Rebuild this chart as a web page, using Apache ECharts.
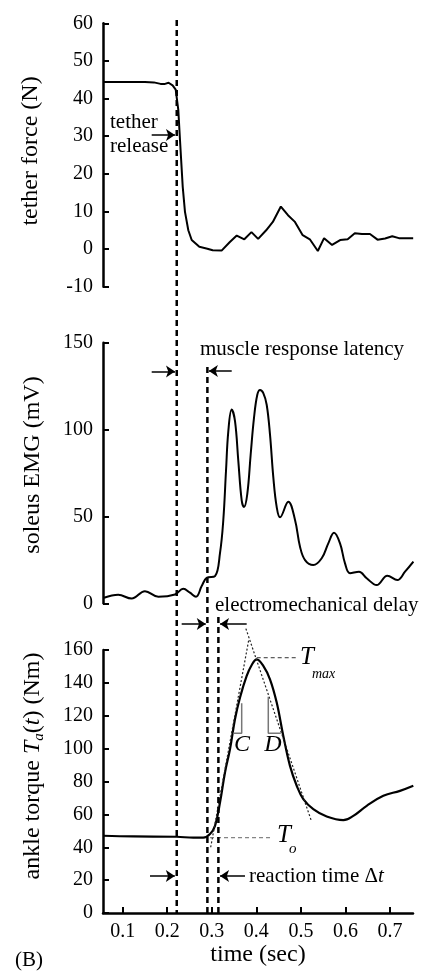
<!DOCTYPE html>
<html>
<head>
<meta charset="utf-8">
<script src="https://cdn.jsdelivr.net/npm/echarts@6/dist/echarts.min.js"></script>
<style>
  html, body { margin: 0; padding: 0; background: #fff; }
  #chart { width: 423px; height: 972px; }
</style>
</head>
<body>
<div id="chart"></div>
<script>
// time axis (sec)
var timeMin = 0.0558, timeMax = 0.7516;
var timeTicks = [0.1, 0.2, 0.3, 0.4, 0.5, 0.6, 0.7];
// tether release, EMG onset, torque onset
var markerTimes = [0.2213, 0.2901, 0.3148];

// tether force (N)
var tetherTime = [0.056, 0.10, 0.15, 0.17, 0.185, 0.195, 0.203, 0.212, 0.219, 0.2248, 0.2286, 0.2347, 0.2398, 0.2473, 0.2549,
  0.272, 0.29, 0.302, 0.322, 0.34, 0.356, 0.373, 0.389, 0.404, 0.422, 0.437, 0.455, 0.471, 0.486, 0.504, 0.52,
  0.538, 0.552, 0.57, 0.588, 0.605, 0.621, 0.637, 0.655, 0.672, 0.689, 0.705, 0.72, 0.752];
var tetherForce = [44.4, 44.4, 44.4, 44.3, 43.9, 43.9, 44.2, 43.5, 42.4, 37, 29, 16.6, 9.9, 5, 2.4,
  0.6, 0.1, -0.3, -0.4, 1.8, 3.6, 2.6, 4.5, 2.7, 5, 7.2, 11.3, 9, 7.3, 3.7, 2.6,
  -0.5, 2.9, 1.1, 2.4, 2.6, 4.2, 4, 4, 2.5, 2.8, 3.4, 2.9, 2.9];

// soleus EMG (mV)
var emgTime = [0.058, 0.090, 0.120, 0.150, 0.180, 0.2174, 0.236, 0.251, 0.2645, 0.2773, 0.2885, 0.3072, 0.3184, 0.3258,
  0.3319, 0.3371, 0.3446, 0.3521, 0.3595, 0.3671, 0.3723, 0.3797, 0.3873, 0.3947, 0.4021, 0.4082, 0.4156, 0.4232,
  0.4306, 0.4381, 0.4457, 0.4531, 0.4717, 0.4868, 0.498, 0.5093, 0.5278, 0.5467, 0.5615, 0.5743, 0.5878,
  0.599, 0.6102, 0.6304, 0.6477, 0.6701, 0.694, 0.7164, 0.7337, 0.7524];
var emgValue = [3.2, 4.9, 2.7, 7.0, 3.8, 5.1, 8.4, 6.1, 3.8, 9.9, 14.6, 15.6, 28.9, 47.8,
  76.3, 99.1, 111.5, 104.8, 82, 59.2, 55.4, 63, 85.8, 106.7, 120, 122.8, 121, 114.3,
  97.2, 72.5, 55.4, 49.5, 58.5, 48, 32.6, 24.9, 22, 25.9, 34.5, 40.6, 34.5,
  23, 17.3, 18.2, 14.4, 10.5, 15.9, 13.4, 18.2, 24];

// ankle torque (Nm)
var torqueTime = [0.056, 0.1238, 0.2212, 0.2585, 0.2809, 0.296, 0.3072, 0.3184, 0.3296, 0.3408, 0.352, 0.3632, 0.3783,
  0.3896, 0.4008, 0.4156, 0.4306, 0.4457, 0.4605, 0.4755, 0.4906, 0.5054, 0.5278, 0.5579, 0.5952, 0.6176, 0.6477,
  0.6850, 0.7224, 0.7523];
var torqueValue = [47.0, 46.6, 46.4, 45.8, 45.8, 48, 53, 67.2, 85.5, 99.6, 117.9, 131, 144.2,
  150.9, 154.3, 150.3, 142.2, 128, 107.7, 89.5, 77.4, 69.3, 63.2, 58.7, 56.5, 59.1, 65.2,
  71.3, 74.3, 77.4];

// torque fit annotations [time, torque]
var riseTangent = [[0.2975, 40], [0.3835, 167]];
var fallTangent = [[0.3765, 173], [0.5235, 56]];
var tMaxLevel = [[0.4008, 155.3], [0.4906, 155.3]];
var tOLevel = [[0.296, 45.8], [0.4345, 45.8]];
var bracketC = [[0.3483, 109.3], [0.3671, 109.3], [0.3671, 127.6]];
var bracketD = [[0.4268, 131.6], [0.4268, 109.3], [0.4547, 109.3]];

function zip(xs, ys) {
  return xs.map(function (x, i) { return [x, ys[i]]; });
}

var serif = 'Liberation Serif';
var myChart = echarts.init(document.getElementById('chart'));

function xAxisOf(idx, visible) {
  return {
    gridIndex: idx, type: 'value', min: timeMin, max: timeMax, show: visible,
    axisLine: { show: true, onZero: false, lineStyle: { color: '#000', width: 2.5 } },
    axisTick: { show: true, inside: true, length: 6, customValues: timeTicks, lineStyle: { color: '#000', width: 2 } },
    axisLabel: { color: '#000', fontFamily: serif, fontSize: 20, margin: 9, customValues: timeTicks,
      formatter: function (v) { return v.toFixed(1); } },
    splitLine: { show: false },
    name: visible ? 'time (sec)' : '', nameLocation: 'middle', nameGap: 28,
    nameTextStyle: { color: '#000', fontFamily: serif, fontSize: 24 }
  };
}
function yAxisOf(idx, min, max, interval) {
  return {
    gridIndex: idx, type: 'value', min: min, max: max, interval: interval,
    axisLine: { show: true, lineStyle: { color: '#000', width: 2.5 } },
    axisTick: { show: true, inside: true, length: 6, lineStyle: { color: '#000', width: 2 } },
    axisLabel: { color: '#000', fontFamily: serif, fontSize: 20, margin: 10 },
    splitLine: { show: false }
  };
}

function dashedMarker(t, top) {
  return {
    type: 'line', xAxisIndex: 3, yAxisIndex: 3, symbol: 'none',
    data: [[t, top], [t, 913]],
    lineStyle: { color: '#000', width: 2.5, type: [6, 4] }
  };
}
function fitLine(data, color, dash, width) {
  return {
    type: 'line', xAxisIndex: 2, yAxisIndex: 2, symbol: 'none', clip: false, data: data,
    lineStyle: { color: color, width: width, type: dash }
  };
}
function arrow(t1, t2, row) {
  return [{ coord: [t1, row] }, { coord: [t2, row] }];
}
function text(x, y, str, size, extra, rotation) {
  var s = { text: str, fill: '#000', fontFamily: serif, fontSize: size,
    textAlign: 'left', textVerticalAlign: 'middle' };
  for (var k in extra) s[k] = extra[k];
  return { type: 'text', silent: true, x: x, y: y, rotation: rotation || 0, style: s };
}

var option = {
  animation: false,
  backgroundColor: '#fff',
  grid: [
    { left: 103, right: 10, top: 23.3, height: 263.4 },
    { left: 103, right: 10, top: 342.7, height: 260.6 },
    { left: 103, right: 10, top: 650, height: 263 },
    { left: 103, right: 10, top: 0, height: 972 }
  ],
  xAxis: [xAxisOf(0, false), xAxisOf(1, false), xAxisOf(2, true), xAxisOf(3, false)],
  yAxis: [
    yAxisOf(0, -10, 60, 10),
    yAxisOf(1, 0, 150, 50),
    yAxisOf(2, 0, 160, 20),
    { gridIndex: 3, type: 'value', min: 0, max: 972, inverse: true, show: false }
  ],
  series: [
    { type: 'line', xAxisIndex: 0, yAxisIndex: 0, symbol: 'none', data: zip(tetherTime, tetherForce),
      lineStyle: { color: '#000', width: 2 } },
    { type: 'line', xAxisIndex: 1, yAxisIndex: 1, symbol: 'none', smooth: 0.4, data: zip(emgTime, emgValue),
      lineStyle: { color: '#000', width: 2 } },
    { type: 'line', xAxisIndex: 2, yAxisIndex: 2, symbol: 'none', smooth: 0.4, data: zip(torqueTime, torqueValue),
      lineStyle: { color: '#000', width: 2.2 } },
    fitLine(riseTangent, '#222', [2, 2], 1.2),
    fitLine(fallTangent, '#222', [2, 2], 1.2),
    fitLine(tMaxLevel, '#333', [4, 3], 1),
    fitLine(tOLevel, '#666', [4, 3], 1),
    fitLine(bracketC, '#777', 'solid', 1.5),
    fitLine(bracketD, '#777', 'solid', 1.5),
    dashedMarker(markerTimes[0], 20),
    dashedMarker(markerTimes[1], 367),
    dashedMarker(markerTimes[2], 617),
    { type: 'line', xAxisIndex: 3, yAxisIndex: 3, symbol: 'none', data: [],
      markLine: {
        silent: true, animation: false, symbol: ['none', 'arrow'], symbolSize: 9,
        label: { show: false },
        lineStyle: { color: '#000', width: 1.5, type: 'solid' },
        data: [
          arrow(0.1651, 0.2174, 135),
          arrow(0.1651, 0.2174, 371.5),
          arrow(0.3447, 0.2935, 371),
          arrow(0.2324, 0.2865, 624),
          arrow(0.3783, 0.3185, 624),
          arrow(0.1613, 0.2170, 876),
          arrow(0.3745, 0.3185, 876)
        ]
      } }
  ],
  graphic: [
    text(31, 151, 'tether force (N)', 24, { textAlign: 'center' }, Math.PI / 2),
    text(33, 465, 'soleus EMG (mV)', 24, { textAlign: 'center' }, Math.PI / 2),
    text(33, 766, 'ankle torque {i|T}{sub|a}({i|t}) (Nm)', 24, { textAlign: 'center',
      rich: {
        i: { fontStyle: 'italic', fontFamily: serif, fontSize: 24, fill: '#000' },
        sub: { fontStyle: 'italic', fontFamily: serif, fontSize: 15, fill: '#000', padding: [12, 0, 0, 0] }
      } }, Math.PI / 2),
    text(110, 122, 'tether', 21),
    text(110, 146, 'release', 21),
    text(200, 349, 'muscle response latency', 21),
    text(215, 605, 'electromechanical delay', 21),
    text(249, 876, 'reaction time Δ{i|t}', 21, { rich: { i: { fontStyle: 'italic', fontFamily: serif, fontSize: 21, fill: '#000' } } }),
    text(242, 745, 'C', 24, { textAlign: 'center', fontStyle: 'italic' }),
    text(273, 745, 'D', 24, { textAlign: 'center', fontStyle: 'italic' }),
    text(300, 657, 'T', 25, { fontStyle: 'italic' }),
    text(312, 674, 'max', 14, { fontStyle: 'italic' }),
    text(277, 835, 'T', 25, { fontStyle: 'italic' }),
    text(289, 849, 'o', 15, { fontStyle: 'italic' }),
    text(15, 960, '(B)', 21)
  ]
};
myChart.setOption(option);
</script>
</body>
</html>
